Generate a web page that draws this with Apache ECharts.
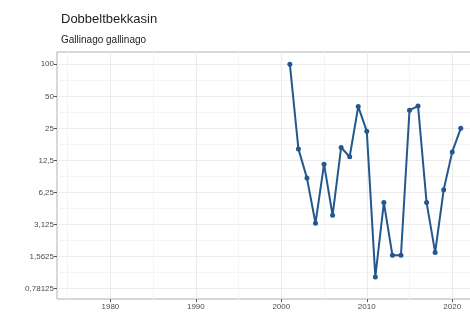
<!DOCTYPE html>
<html>
<head>
<meta charset="utf-8">
<script src="https://cdn.jsdelivr.net/npm/echarts@6/dist/echarts.min.js"></script>
<style>
html,body{margin:0;padding:0;background:#fff;overflow:hidden;}
#chart{width:470px;height:316px;}
</style>
</head>
<body>
<div id="chart"></div>
<script>
var titleText = "Dobbeltbekkasin";
var subtitleText = "Gallinago gallinago";
var years = [2001,2002,2003,2004,2005,2006,2007,2008,2009,2010,2011,2012,2013,2014,2015,2016,2017,2018,2019,2020,2021];
var values = [100,16,8.5,3.2,11.5,3.8,16.5,13.5,40,23.5,1,5,1.6,1.6,37,40.5,5,1.7,6.6,15,25];
var yTickValues = [100,50,25,12.5,6.25,3.125,1.5625,0.78125];
var yTickLabels = ["100","50","25","12,5","6,25","3,125","1,5625","0,78125"];
var xTickValues = [1980,1990,2000,2010,2020];
var xTickLabels = ["1980","1990","2000","2010","2020"];
var xMinorValues = [1975,1985,1995,2005,2015];

var yMajor = yTickValues.map(function(v){return Math.log2(v);});
var yMinor = [];
for (var i=0;i<yMajor.length-1;i++){ yMinor.push((yMajor[i]+yMajor[i+1])/2); }
var seriesData = years.map(function(y,i){return [y, Math.log2(values[i])];});

var xMin = 1973.75, xMax = 2023.25, yMin = -0.69, yMax = 7.028;
var font = "Liberation Sans, Arial, sans-serif";

var chart = echarts.init(document.getElementById('chart'));
chart.setOption({
  animation:false,
  backgroundColor:'#fff',
  title:[
    {text:titleText, left:56, top:8, textStyle:{fontSize:13, fontWeight:'normal', color:'#222', fontFamily:font}},
    {text:subtitleText, left:56, top:30, textStyle:{fontSize:10, fontWeight:'normal', color:'#222', fontFamily:font}}
  ],
  grid:{left:57, top:52, width:423, bottom:17, containLabel:false, outerBoundsMode:'none', show:true, borderColor:'#b0b0b0', borderWidth:1, backgroundColor:'transparent'},
  xAxis:[
    {type:'value', min:xMin, max:xMax, gridIndex:0,
     axisLine:{show:false, onZero:false},
     axisTick:{show:true, length:3, customValues:xTickValues, lineStyle:{color:'#555'}},
     axisLabel:{show:true, customValues:xTickValues, margin:4, fontSize:8, color:'#4d4d4d', fontFamily:font,
       formatter:function(v){
         for (var k=0;k<xTickValues.length;k++){ if (Math.abs(xTickValues[k]-v)<1e-6) return xTickLabels[k]; }
         return '';
       }},
     splitLine:{show:true, lineStyle:{color:'#ebebeb', width:1}}
    },
    {type:'value', min:xMin, max:xMax, gridIndex:0, position:'bottom',
     axisLine:{show:false, onZero:false},
     axisTick:{show:false, customValues:xMinorValues},
     axisLabel:{show:false, customValues:xMinorValues},
     splitLine:{show:true, lineStyle:{color:'#f4f4f4', width:1}}
    }
  ],
  yAxis:[
    {type:'value', min:yMin, max:yMax, gridIndex:0,
     axisLine:{show:false, onZero:false},
     axisTick:{show:true, length:3, customValues:yMajor, lineStyle:{color:'#555'}},
     axisLabel:{show:true, customValues:yMajor, margin:3, fontSize:8, color:'#4d4d4d', fontFamily:font,
       formatter:function(v){
         for (var k=0;k<yMajor.length;k++){ if (Math.abs(yMajor[k]-v)<1e-6) return yTickLabels[k]; }
         return '';
       }},
     splitLine:{show:true, lineStyle:{color:'#ebebeb', width:1}}
    },
    {type:'value', min:yMin, max:yMax, gridIndex:0, position:'left',
     axisLine:{show:false, onZero:false},
     axisTick:{show:false, customValues:yMinor},
     axisLabel:{show:false, customValues:yMinor},
     splitLine:{show:true, lineStyle:{color:'#f4f4f4', width:1}}
    }
  ],
  series:[{
    type:'line', xAxisIndex:0, yAxisIndex:0,
    data:seriesData,
    symbol:'circle', symbolSize:5, showSymbol:true,
    lineStyle:{color:'#23588f', width:2},
    itemStyle:{color:'#23588f'},
    z:5
  }]
});
</script>
</body>
</html>
